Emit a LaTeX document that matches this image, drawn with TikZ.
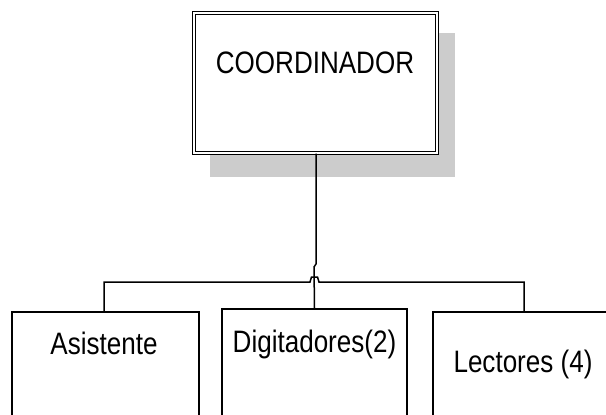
\documentclass[tikz,border=0pt]{standalone}
\usepackage{fontspec}
\newfontfamily\orgfont[FakeStretch=0.84]{Liberation Sans}
\begin{document}
\begin{tikzpicture}[x=1pt,y=-1pt,
  orgline/.style={line width=1.5pt, draw=black},
  unitbox/.style={orgline, rectangle, fill=white, inner sep=0pt},
  lbl/.style={font=\orgfont\fontsize{31}{37}\selectfont, inner sep=0pt, anchor=base},
  headbox/.style={rectangle, inner sep=0pt, fill=white, draw=black,
    double=white, line width=1.3pt, double distance=1.8pt,
    minimum width=243pt, minimum height=140pt}]
\useasboundingbox (0,0) rectangle (606,415);
\clip (0,0) rectangle (606,415);

% head box with its grey shadow
\fill[black!20] (210,33) rectangle (455,177);
\node[headbox] (boss) at (315.5,83) {};
\node[lbl] (bosstxt) at (315,74) {COORDINADOR};

% unit boxes (running off the lower edge)
\node[unitbox, minimum width=187pt, minimum height=150pt, anchor=north] (asi) at (105.5,311) {};
\node[unitbox, minimum width=185pt, minimum height=150pt, anchor=north] (dig) at (314.5,308) {};
\node[unitbox, minimum width=220pt, minimum height=150pt, anchor=north] (lec) at (543,311) {};

\node[lbl] (asitxt) at (104,354) {Asistente};
\node[lbl] (digtxt) at (314.5,352) {Digitadores(2)};
\node[lbl] (lectxt) at (523,372) {Lectores (4)};

% connectors
\coordinate (jogA) at (316,264);
\coordinate (jogB) at (314,267);
\coordinate (asiTop) at (104,311);
\coordinate (busL) at (104,282);
\coordinate (hopL) at (310,282);
\coordinate (hopLt) at (311.5,277);
\coordinate (hopRt) at (317.5,277);
\coordinate (hopR) at (319,282);
\coordinate (busR) at (524,282);
\coordinate (lecTop) at (524,311);

\draw[orgline] (boss.south -| jogA) -- (jogA) -- (jogB) -- (dig.north);
\draw[orgline] (asiTop) -- (busL) -- (hopL) -- (hopLt) -- (hopRt) -- (hopR)
  -- (busR) -- (lecTop);
\end{tikzpicture}
\end{document}
